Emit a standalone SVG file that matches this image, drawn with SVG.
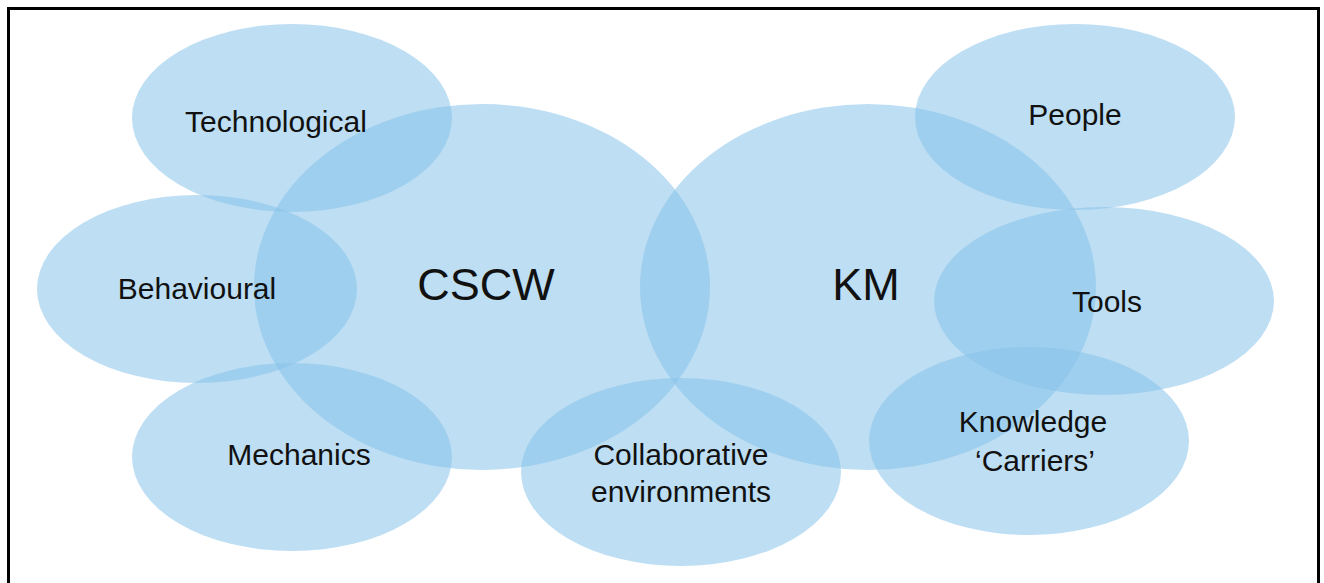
<svg xmlns="http://www.w3.org/2000/svg" width="1324" height="583" viewBox="0 0 1324 583">
  <style>
    .blob { fill: #86c3ea; fill-opacity: 0.55; stroke: none; }
    .lbl { font-family: "Liberation Sans", Arial, sans-serif; font-size: 30px; fill: #111111; text-anchor: middle; }
    .big { font-size: 45px; }
  </style>
  <rect x="0" y="0" width="1324" height="583" fill="#ffffff"/>
  <rect x="8.5" y="8.5" width="1310" height="600" fill="none" stroke="#000000" stroke-width="3"/>

  <g id="node-technological">
    <ellipse class="blob" cx="292" cy="118" rx="160" ry="94"/>
  </g>
  <g id="node-behavioural">
    <ellipse class="blob" cx="197" cy="289" rx="160" ry="94"/>
  </g>
  <g id="node-mechanics">
    <ellipse class="blob" cx="292" cy="457" rx="160" ry="94"/>
  </g>
  <g id="node-cscw">
    <ellipse class="blob" cx="482" cy="287" rx="228" ry="183"/>
  </g>
  <g id="node-km">
    <ellipse class="blob" cx="868" cy="287" rx="228" ry="183"/>
  </g>
  <g id="node-collaborative">
    <ellipse class="blob" cx="681" cy="472" rx="160" ry="94"/>
  </g>
  <g id="node-people">
    <ellipse class="blob" cx="1075" cy="117" rx="160" ry="93"/>
  </g>
  <g id="node-tools">
    <ellipse class="blob" cx="1104" cy="301" rx="170" ry="94"/>
  </g>
  <g id="node-carriers">
    <ellipse class="blob" cx="1029" cy="441" rx="160" ry="94"/>
  </g>

  <g id="labels">
    <text class="lbl" x="276" y="132">Technological</text>
    <text class="lbl" x="197" y="299">Behavioural</text>
    <text class="lbl" x="299" y="465">Mechanics</text>
    <text class="lbl big" x="486" y="300">CSCW</text>
    <text class="lbl big" x="866" y="300">KM</text>
    <text class="lbl" x="681" y="465">Collaborative</text>
    <text class="lbl" x="681" y="502">environments</text>
    <text class="lbl" x="1075" y="125">People</text>
    <text class="lbl" x="1107" y="312">Tools</text>
    <text class="lbl" x="1033" y="432">Knowledge</text>
    <text class="lbl" x="1035" y="471">‘Carriers’</text>
  </g>

  <g id="connectors"/>
</svg>
